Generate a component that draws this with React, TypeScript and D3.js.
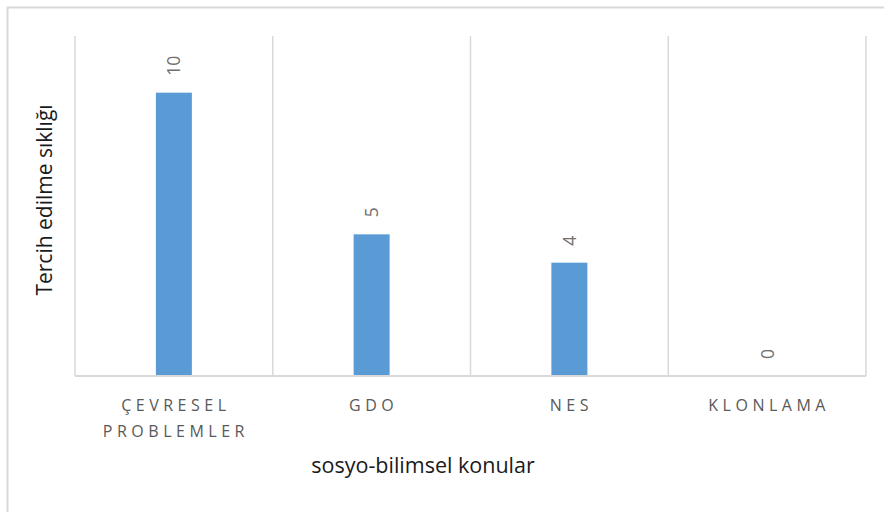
import React from "react";
import * as d3 from "d3";

// Topics and how often each was chosen
const categories: string[][] = [
  ["ÇEVRESEL", "PROBLEMLER"],
  ["GDO"],
  ["NES"],
  ["KLONLAMA"],
];
const values: number[] = [10, 5, 4, 0];
const yMax = 12;

const xTitle = "sosyo-bilimsel konular";
const yTitle = "Tercih edilme sıklığı";

const W = 884;
const H = 512;
const plot = { left: 75, right: 866, top: 36, bottom: 376 };
const FONT = "'Open Sans', Lato, sans-serif";
const GRID = "#D9D9D9";
const BAR = "#5B9BD5";
const LABEL = "#595959";

export default function App() {
  const keys = categories.map((c) => c.join(" "));
  const x = d3
    .scaleBand<string>()
    .domain(keys)
    .range([plot.left, plot.right])
    .paddingInner(0)
    .paddingOuter(0);
  const y = d3.scaleLinear().domain([0, yMax]).range([plot.bottom, plot.top]);
  const barW = x.bandwidth() * 0.182;

  // band boundaries: left edge of each band plus the right end
  const bounds = [...keys.map((k) => x(k) as number), plot.right];

  return (
    <svg
      width={W}
      height={H}
      style={{ position: "absolute", left: 0, top: 0, background: "#fff" }}
    >
      <rect x={7.5} y={7.5} width={W + 10} height={H + 10} fill="#fff" stroke={GRID} strokeWidth={2} />

      {bounds.map((b, i) => (
        <line key={i} x1={b} x2={b} y1={plot.top} y2={plot.bottom} stroke={GRID} strokeWidth={1.5} />
      ))}
      <line x1={plot.left} x2={plot.right} y1={plot.bottom} y2={plot.bottom} stroke={GRID} strokeWidth={2} />

      {keys.map((k, i) => {
        const cx = (x(k) as number) + x.bandwidth() / 2;
        const top = y(values[i]);
        return (
          <g key={k}>
            <rect
              x={cx - barW / 2}
              y={top}
              width={barW}
              height={plot.bottom - top - 1}
              fill={BAR}
            />
            <text
              transform={`translate(${cx + 6.5},${top - 17}) rotate(-90)`}
              fontFamily={FONT}
              fontSize={17.5}
              fill="#707070"
              textAnchor="start"
            >
              {values[i]}
            </text>
            {categories[i].map((line, j) => (
              <text
                key={j}
                x={cx + 2}
                y={411 + j * 25.5}
                textAnchor="middle"
                fontFamily={FONT}
                fontSize={16}
                letterSpacing={4.5}
                fill={LABEL}
              >
                {line}
              </text>
            ))}
          </g>
        );
      })}

      <text
        x={423}
        y={473}
        textAnchor="middle"
        fontFamily={FONT}
        fontSize={21.5}
        fill="#1a1a1a"
      >
        {xTitle}
      </text>
      <text
        transform={`translate(52,${200}) rotate(-90)`}
        textAnchor="middle"
        fontFamily={FONT}
        fontSize={21}
        fill="#1a1a1a"
      >
        {yTitle}
      </text>
    </svg>
  );
}
